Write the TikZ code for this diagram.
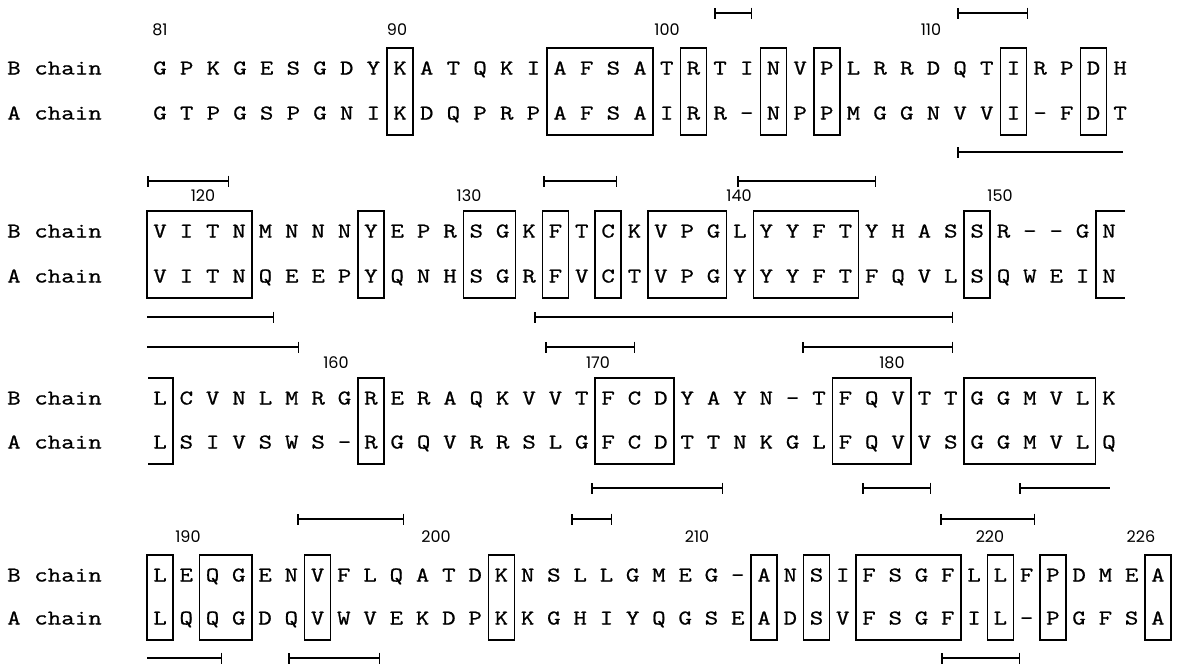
\documentclass[tikz,border=0pt]{standalone}
\usepackage{fontspec}
\usetikzlibrary{arrows.meta}
\newfontfamily\seqfont[FakeStretch=1.25,FakeBold=0.8]{Latin Modern Mono}
\newfontfamily\numfont{Poppins}
\tikzset{
  res/.style={inner sep=0pt,anchor=base,font=\seqfont\fontsize{21}{21}\selectfont},
  lab/.style={inner sep=0pt,anchor=base west,font=\seqfont\fontsize{21}{21}\selectfont},
  num/.style={inner sep=0pt,anchor=base,font=\numfont\fontsize{16}{16}\selectfont},
  box/.style={line width=1.5pt},
  bar/.style={line width=1.7pt},
  both/.style={bar,{Bar[width=11pt,line width=1.5pt]}-{Bar[width=11pt,line width=1.5pt]}},
  lt/.style={bar,{Bar[width=11pt,line width=1.5pt]}-},
  rt/.style={bar,-{Bar[width=11pt,line width=1.5pt]}}
}
\newcommand\seqrow[4]{% name, y, spacing, list
  \foreach \c [count=\i] in {#4} {\node[res] (#1-\i) at ({160+(\i-1)*#3},{#2+6.5}) {\c};}}
\newcommand\rbox[5]{% s, yB, yA, i, j
  \draw[box] ({160+(#4-1)*#1-13},{#2-20}) rectangle ({160+(#5-1)*#1+13},{#3+22});}
\begin{document}
\begin{tikzpicture}[x=1pt,y=-1pt]
\useasboundingbox (0,0) rectangle (1179,667);
% ---------- block 1
\node[lab] (lb1) at (7,74.5) {B chain};
\node[lab] (la1) at (7,119.5) {A chain};
\seqrow{b1}{68}{26.67}{G,P,K,G,E,S,G,D,Y,K,A,T,Q,K,I,A,F,S,A,T,R,T,I,N,V,P,L,R,R,D,Q,T,I,R,P,D,H}
\seqrow{a1}{113}{26.67}{G,T,P,G,S,P,G,N,I,K,D,Q,P,R,P,A,F,S,A,I,R,R,-,N,P,P,M,G,G,N,V,V,I,-,F,D,T}
\node[num] (n81) at (160,35.5) {81};
\node[num] (n90) at (397,35.5) {90};
\node[num] (n100) at (667,35.5) {100};
\node[num] (n110) at (931,35.5) {110};
\foreach \i/\j in {10/10,16/19,21/21,24/24,26/26,33/33,36/36} {\rbox{26.67}{68}{113}{\i}{\j}}
\draw[both] (714,13) -- (752,13);
\draw[both] (957,13) -- (1028,13);
\draw[lt] (957,152) -- (1123,152);
% ---------- block 2
\node[lab] (lb2) at (7,237.5) {B chain};
\node[lab] (la2) at (7,282.5) {A chain};
\seqrow{b2}{231}{26.36}{V,I,T,N,M,N,N,N,Y,E,P,R,S,G,K,F,T,C,K,V,P,G,L,Y,Y,F,T,Y,H,A,S,S,R,-,-,G,N}
\seqrow{a2}{276}{26.36}{V,I,T,N,Q,E,E,P,Y,Q,N,H,S,G,R,F,V,C,T,V,P,G,Y,Y,Y,F,T,F,Q,V,L,S,Q,W,E,I,N}
\node[num] (n120) at (203,201.5) {120};
\node[num] (n130) at (469,201.5) {130};
\node[num] (n140) at (739,201.5) {140};
\node[num] (n150) at (1000,201.5) {150};
\foreach \i/\j in {1/4,9/9,13/14,16/16,18/18,20/22,24/27,32/32} {\rbox{26.36}{231}{276}{\i}{\j}}
\draw[box] (1125,211) -- (1096,211) -- (1096,298) -- (1125,298);
\draw[both] (147,181) -- (229,181);
\draw[both] (543,181) -- (617,181);
\draw[both] (737,181) -- (876,181);
\draw[rt] (147,317) -- (274,317);
\draw[both] (534,317) -- (953,317);
% ---------- block 3
\node[lab] (lb3) at (7,404.5) {B chain};
\node[lab] (la3) at (7,448.5) {A chain};
\seqrow{b3}{398}{26.36}{L,C,V,N,L,M,R,G,R,E,R,A,Q,K,V,V,T,F,C,D,Y,A,Y,N,-,T,F,Q,V,T,T,G,G,M,V,L,K}
\seqrow{a3}{442}{26.36}{L,S,I,V,S,W,S,-,R,G,Q,V,R,R,S,L,G,F,C,D,T,T,N,K,G,L,F,Q,V,V,S,G,G,M,V,L,Q}
\node[num] (n160) at (336,368.5) {160};
\node[num] (n170) at (598,368.5) {170};
\node[num] (n180) at (892,368.5) {180};
\foreach \i/\j in {9/9,18/20,27/29,32/36} {\rbox{26.36}{398}{442}{\i}{\j}}
\draw[box] (148,378) -- (173,378) -- (173,464) -- (148,464);
\draw[rt] (147,347) -- (299,347);
\draw[both] (545,347) -- (635,347);
\draw[both] (802,347) -- (953,347);
\draw[both] (591,488) -- (723,488);
\draw[both] (862,488) -- (931,488);
\draw[lt] (1019,488) -- (1110,488);
% ---------- block 4
\node[lab] (lb4) at (7,581.5) {B chain};
\node[lab] (la4) at (7,624.5) {A chain};
\seqrow{b4}{575}{26.26}{L,E,Q,G,E,N,V,F,L,Q,A,T,D,K,N,S,L,L,G,M,E,G,-,A,N,S,I,F,S,G,F,L,L,F,P,D,M,E,A}
\seqrow{a4}{618}{26.26}{L,Q,Q,G,D,Q,V,W,V,E,K,D,P,K,K,G,H,I,Y,Q,G,S,E,A,D,S,V,F,S,G,F,I,L,-,P,G,F,S,A}
\node[num] (n190) at (188,542.5) {190};
\node[num] (n200) at (436,542.5) {200};
\node[num] (n210) at (697,542.5) {210};
\node[num] (n220) at (990,542.5) {220};
\node[num] (n226) at (1141,542.5) {226};
\foreach \i/\j in {1/1,3/4,7/7,14/14,24/24,26/26,28/31,33/33,35/35,39/39} {\rbox{26.26}{575}{618}{\i}{\j}}
\draw[both] (297,519) -- (404,519);
\draw[both] (571,519) -- (612,519);
\draw[both] (940,519) -- (1035,519);
\draw[rt] (147,658) -- (222,658);
\draw[both] (288,658) -- (380,658);
\draw[both] (941,658) -- (1020,658);
\end{tikzpicture}
\end{document}
